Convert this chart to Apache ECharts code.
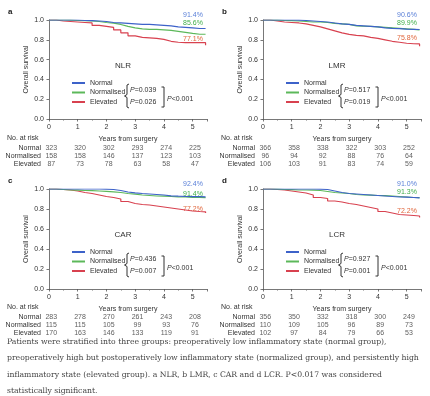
<!DOCTYPE html>
<html>
<head>
<meta charset="utf-8">
<style>
  html, body { margin: 0; padding: 0; background: #fff; }
  #chart { width: 430px; height: 396px; }
</style>
<script src="https://cdn.jsdelivr.net/npm/echarts@6/dist/echarts.min.js"></script>
</head>
<body>
<div id="chart"></div>
<script>
// time grid (years from surgery) for the survival curves
const years = [0, 0.25, 0.5, 0.75, 1, 1.25, 1.5, 1.75, 2, 2.25, 2.5, 2.75, 3, 3.25, 3.5, 3.75, 4, 4.25, 4.5, 4.75, 5, 5.25, 5.45]

const nlrNormal = [1, 1, 1, 1, 0.995, 0.993, 0.99, 0.985, 0.975, 0.97, 0.965, 0.96, 0.955, 0.955, 0.95, 0.945, 0.94, 0.93, 0.925, 0.92, 0.914, 0.914, 0.914]
const nlrNormalised = [1, 1, 0.998, 0.995, 0.993, 0.99, 0.985, 0.975, 0.968, 0.955, 0.935, 0.92, 0.91, 0.905, 0.905, 0.9, 0.895, 0.885, 0.875, 0.865, 0.856, 0.856, 0.856]
const nlrElevated = [1, 0.99, 0.985, 0.98, 0.975, 0.97, 0.945, 0.935, 0.925, 0.9, 0.87, 0.84, 0.825, 0.82, 0.815, 0.805, 0.785, 0.775, 0.771, 0.771, 0.771, 0.771, 0.745]

const lmrNormal = [1, 1, 1, 1, 0.998, 0.995, 0.99, 0.985, 0.98, 0.97, 0.96, 0.955, 0.945, 0.94, 0.935, 0.93, 0.92, 0.915, 0.912, 0.908, 0.906, 0.904, 0.9]
const lmrNormalised = [1, 0.998, 0.995, 0.993, 0.99, 0.985, 0.98, 0.98, 0.975, 0.965, 0.96, 0.955, 0.94, 0.937, 0.935, 0.93, 0.925, 0.92, 0.915, 0.91, 0.905, 0.9, 0.899]
const lmrElevated = [1, 0.99, 0.98, 0.975, 0.97, 0.96, 0.945, 0.93, 0.91, 0.89, 0.87, 0.855, 0.845, 0.84, 0.825, 0.815, 0.8, 0.785, 0.775, 0.765, 0.76, 0.758, 0.735]

const carNormal = [1, 1, 1, 1, 1, 1, 1, 0.998, 0.995, 0.985, 0.97, 0.962, 0.955, 0.95, 0.945, 0.94, 0.932, 0.928, 0.925, 0.924, 0.924, 0.922, 0.92]
const carNormalised = [1, 0.995, 0.99, 0.988, 0.985, 0.983, 0.98, 0.977, 0.972, 0.965, 0.955, 0.948, 0.94, 0.935, 0.93, 0.928, 0.925, 0.922, 0.92, 0.917, 0.915, 0.914, 0.914]
const carElevated = [1, 0.995, 0.99, 0.98, 0.965, 0.955, 0.94, 0.925, 0.915, 0.9, 0.875, 0.855, 0.845, 0.84, 0.83, 0.82, 0.81, 0.8, 0.79, 0.78, 0.775, 0.772, 0.76]

const lcrNormal = [1, 1, 1, 1, 1, 1, 1, 0.998, 0.995, 0.98, 0.965, 0.955, 0.95, 0.945, 0.94, 0.935, 0.93, 0.925, 0.92, 0.918, 0.915, 0.912, 0.91]
const lcrNormalised = [1, 0.998, 0.995, 0.993, 0.99, 0.99, 0.988, 0.985, 0.975, 0.965, 0.96, 0.955, 0.945, 0.94, 0.938, 0.935, 0.933, 0.93, 0.925, 0.92, 0.915, 0.913, 0.913]
const lcrElevated = [1, 0.995, 0.99, 0.98, 0.97, 0.96, 0.94, 0.915, 0.905, 0.88, 0.87, 0.855, 0.845, 0.83, 0.815, 0.8, 0.775, 0.76, 0.745, 0.74, 0.735, 0.73, 0.715]

// number at risk
const riskYears = [0, 1, 2, 3, 4, 5]
const groups = ['Normal', 'Normalised', 'Elevated']
const nlrRisk = [[323, 320, 302, 293, 274, 225], [158, 158, 146, 137, 123, 103], [87, 73, 78, 63, 58, 47]]
const lmrRisk = [[366, 358, 338, 322, 303, 252], [96, 94, 92, 88, 76, 64], [106, 103, 91, 83, 74, 59]]
const carRisk = [[283, 278, 270, 261, 243, 208], [115, 115, 105, 99, 93, 76], [170, 163, 146, 133, 119, 91]]
const lcrRisk = [[356, 350, 332, 318, 300, 249], [110, 109, 105, 96, 89, 73], [102, 97, 84, 79, 66, 53]]

// p values and 5-year survival labels
const nlrP = ['=0.039', '=0.026', '<0.001']
const lmrP = ['=0.517', '=0.019', '<0.001']
const carP = ['=0.436', '=0.007', '<0.001']
const lcrP = ['=0.927', '=0.001', '<0.001']
const nlrRate = ['91.4%', '85.6%', '77.1%']
const lmrRate = ['90.6%', '89.9%', '75.8%']
const carRate = ['92.4%', '91.4%', '77.2%']
const lcrRate = ['91.0%', '91.3%', '72.2%']

const caption = [
  'Patients were stratified into three groups: preoperatively low inflammatory state (normal group),',
  'preoperatively high but postoperatively low inflammatory state (normalized group), and persistently high',
  'inflammatory state (elevated group). a NLR, b LMR, c CAR and d LCR. P<0.017 was considered',
  'statistically significant.'
]

const colors = ['#3d62c9', '#5cb85a', '#d8414f']
const rateColors = ['#5b80d8', '#3fae49', '#e0663c']
const font = 'Liberation Sans, Arial, sans-serif'
const txt = '#333'

const panels = [
  { letter: 'a', marker: 'NLR', left: 49, top: 20, height: 99, curves: [nlrNormal, nlrNormalised, nlrElevated], risk: nlrRisk, p: nlrP, rate: nlrRate, rateDy: [-5, 3, 19] },
  { letter: 'b', marker: 'LMR', left: 263, top: 20, height: 99, curves: [lmrNormal, lmrNormalised, lmrElevated], risk: lmrRisk, p: lmrP, rate: lmrRate, rateDy: [-5, 3, 18] },
  { letter: 'c', marker: 'CAR', left: 49, top: 189, height: 100, curves: [carNormal, carNormalised, carElevated], risk: carRisk, p: carP, rate: carRate, rateDy: [-5, 5, 20] },
  { letter: 'd', marker: 'LCR', left: 263, top: 189, height: 100, curves: [lcrNormal, lcrNormalised, lcrElevated], risk: lcrRisk, p: lcrP, rate: lcrRate, rateDy: [-5, 3, 22] }
]
const plotW = 158

const grid = []
const xAxis = []
const yAxis = []
const series = []
const legend = []
const graphic = []

panels.forEach((p, i) => {
  // survival plot
  grid.push({ left: p.left, top: p.top, width: plotW, height: p.height })
  xAxis.push({
    type: 'value', gridIndex: 2 * i, min: 0, max: 5.5, interval: 1,
    name: 'Years from surgery', nameLocation: 'middle', nameGap: 17,
    nameTextStyle: { fontSize: 7, color: txt, fontFamily: font },
    axisLine: { lineStyle: { color: '#555', width: 0.8 } },
    axisTick: { length: 2.5, lineStyle: { color: '#555', width: 0.8 } },
    minorTick: { show: true, splitNumber: 2, length: 1.5, lineStyle: { color: '#777' } },
    axisLabel: { fontSize: 7, color: txt, fontFamily: font, margin: 5, showMaxLabel: false },
    splitLine: { show: false }
  })
  yAxis.push({
    type: 'value', gridIndex: 2 * i, min: 0, max: 1, interval: 0.2,
    name: 'Overall survival', nameLocation: 'middle', nameGap: 19, nameRotate: 90,
    nameTextStyle: { fontSize: 7, color: txt, fontFamily: font },
    axisLine: { show: true, lineStyle: { color: '#555', width: 0.8 } },
    axisTick: { show: true, length: 2.5, lineStyle: { color: '#555', width: 0.8 } },
    axisLabel: { fontSize: 7, color: txt, fontFamily: font, margin: 5, formatter: v => v.toFixed(1) },
    splitLine: { show: false }
  })
  p.curves.forEach((c, g) => {
    series.push({
      name: groups[g], type: 'line', step: 'end', showSymbol: false,
      xAxisIndex: 2 * i, yAxisIndex: 2 * i,
      color: colors[g], lineStyle: { width: 1.2, color: colors[g] },
      data: years.map((t, k) => [t, c[k]]),
      z: 3 - g
    })
  })

  // number-at-risk table under the plot
  grid.push({ left: p.left, top: p.top + 124, width: plotW, height: 24 })
  xAxis.push({ type: 'value', gridIndex: 2 * i + 1, min: 0, max: 5.5, show: false })
  yAxis.push({
    type: 'category', gridIndex: 2 * i + 1, data: groups, inverse: true,
    axisLine: { show: false }, axisTick: { show: false },
    axisLabel: { fontSize: 7, color: txt, fontFamily: font, margin: 8, interval: 0 }
  })
  const cells = []
  p.risk.forEach((row, g) => row.forEach((n, k) => cells.push([riskYears[k] + 0.08, groups[g], n])))
  series.push({
    type: 'scatter', xAxisIndex: 2 * i + 1, yAxisIndex: 2 * i + 1,
    symbolSize: 1, itemStyle: { color: 'rgba(0,0,0,0)' }, silent: true,
    label: { show: true, position: 'inside', fontSize: 7, color: txt, fontFamily: font, formatter: d => d.value[2] },
    data: cells
  })

  legend.push({
    orient: 'vertical', left: p.left + 23, top: p.top + 59.5,
    data: groups, icon: 'rect', itemWidth: 13, itemHeight: 2, itemGap: 2.5,
    textStyle: { fontSize: 7, color: txt, fontFamily: font }, padding: 0
  })

  const L = p.left
  const T = p.top
  graphic.push({ type: 'text', left: L - 41, top: T - 12, style: { text: p.letter, font: 'bold 8px ' + font, fill: '#222' } })
  graphic.push({ type: 'text', left: L - 42, top: T + 115, style: { text: 'No. at risk', font: '7px ' + font, fill: txt } })
  graphic.push({ type: 'text', x: L + 74, y: T + 46, style: { text: p.marker, font: '8px ' + font, fill: txt, align: 'center', verticalAlign: 'middle' } })
  p.rate.forEach((r, g) => {
    graphic.push({ type: 'text', x: L + 144, y: T + p.rateDy[g], style: { text: r, font: '7px ' + font, fill: rateColors[g], align: 'center', verticalAlign: 'middle' } })
  })
  // brackets with p values
  const bx = L + 78
  const y0 = T + 64
  const y1 = T + 88
  const ym = (y0 + y1) / 2
  graphic.push({ type: 'polyline', shape: { points: [[bx + 2, y0], [bx, y0 + 1], [bx, ym - 1.5], [bx - 2.5, ym], [bx, ym + 1.5], [bx, y1 - 1], [bx + 2, y1]] }, style: { stroke: '#333', lineWidth: 1, fill: null } })
  const cx = L + 115
  graphic.push({ type: 'polyline', shape: { points: [[cx - 2.5, T + 67], [cx, T + 67], [cx, T + 87], [cx - 2.5, T + 87]] }, style: { stroke: '#333', lineWidth: 1, fill: null } })
  const rich = { i: { fontStyle: 'italic', fontSize: 7, fontFamily: font, fill: txt } }
  const pPos = [[bx + 3, T + 70], [bx + 3, T + 82], [cx + 3, T + 79]]
  p.p.forEach((v, k) => {
    graphic.push({ type: 'text', x: pPos[k][0], y: pPos[k][1], style: { text: '{i|P}' + v, rich, font: '7px ' + font, fill: txt, verticalAlign: 'middle' } })
  })
})

caption.forEach((line, k) => {
  graphic.push({ type: 'text', left: 7, top: 338 + k * 16.3, style: { text: line, font: '7.7px DejaVu Serif, serif', fill: '#444' } })
})

const chart = echarts.init(document.getElementById('chart'))
chart.setOption({
  animation: false,
  backgroundColor: '#fff',
  grid,
  xAxis,
  yAxis,
  legend,
  series,
  graphic
})
</script>
</body>
</html>
